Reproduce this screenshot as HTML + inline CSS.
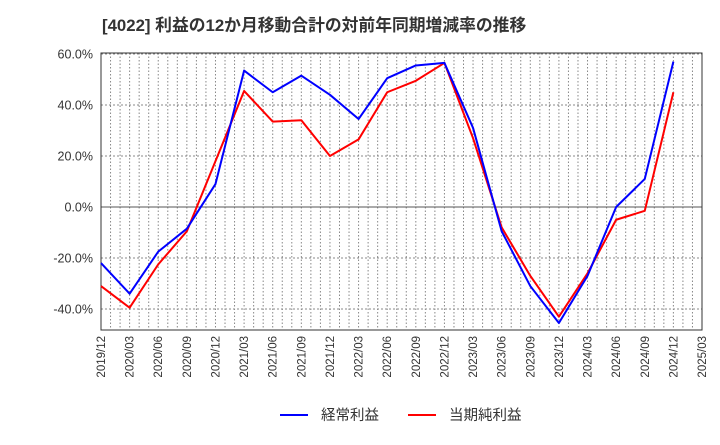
<!DOCTYPE html>
<html><head><meta charset="utf-8"><style>
body{margin:0;background:#fff;font-family:"Liberation Sans","Noto Sans CJK JP",sans-serif;}
svg text{font-family:"Liberation Sans","Noto Sans CJK JP",sans-serif;}
</style></head><body>
<svg id="c" width="720" height="440" xmlns="http://www.w3.org/2000/svg">
<text x="102" y="31" font-size="16.8" font-weight="bold" fill="#333">[4022]  利益の12か月移動合計の対前年同期増減率の推移</text>
<g id="grid"></g><g id="axes"></g><g id="series"></g>
<g>
<line x1="280" y1="415" x2="308" y2="415" stroke="#0000ff" stroke-width="2"/>
<text x="321" y="420" font-size="14.5" fill="#333">経常利益</text>
<line x1="408" y1="415" x2="436" y2="415" stroke="#ff0000" stroke-width="2"/>
<text x="449" y="420" font-size="14.5" fill="#333">当期純利益</text>
</g>
</svg>
<script>
const categories=["2019/12","2020/03","2020/06","2020/09","2020/12","2021/03","2021/06","2021/09","2021/12","2022/03","2022/06","2022/09","2022/12","2023/03","2023/06","2023/09","2023/12","2024/03","2024/06","2024/09","2024/12","2025/03"];
const keijoValues=[-22,-34,-17.5,-8.5,9,53.5,45,51.5,44,34.5,50.5,55.5,56.5,31,-9.5,-31,-45.5,-27,0,11,57];
const junriValues=[-31,-39.5,-22.5,-9.5,18,45.5,33.5,34,20,26.5,45,49.5,56.5,27,-8,-27,-43,-26,-5,-1.5,45];
const yTicks=[-40,-20,0,20,40,60];
const L=101,R=702,T=53,B=330;
const NS="http://www.w3.org/2000/svg";
const qw=(R-L)/(categories.length-1);
function x(i){return L+i*qw;}
function y(v){return 207-2.55*v;}
function mk(t,a,p){const e=document.createElementNS(NS,t);for(const k in a)e.setAttribute(k,a[k]);p.appendChild(e);return e;}
const grid=document.getElementById('grid'),axes=document.getElementById('axes'),ser=document.getElementById('series');
mk('rect',{x:L,y:T,width:R-L,height:B-T,fill:'#fff'},grid);
for(let m=1;m<(categories.length-1)*3;m++){const gx=L+m*qw/3;
const l=mk('line',{x1:gx,y1:T,x2:gx,y2:B,stroke:'#888','stroke-dasharray':'1.5,2','stroke-width':1},grid);

}
yTicks.forEach(v=>{const gy=y(v);
const l=mk('line',{x1:L,y1:gy,x2:R,y2:gy,stroke:v===0?'#555':'#888','stroke-dasharray':v===0?'':'2,2','stroke-width':1},grid);


const t=mk('text',{x:L-8,y:gy+4.5,'text-anchor':'end','font-size':12.5,fill:'#333'},axes);t.textContent=v.toFixed(1)+'%';

});
categories.forEach((c,i)=>{const t=mk('text',{transform:`translate(${x(i)+4},${B+6}) rotate(-90)`,'text-anchor':'end','font-size':11.5,fill:'#333'},axes);t.textContent=c;

});
const fr=mk('rect',{x:L,y:T,width:R-L,height:B-T,fill:'none',stroke:'#333','stroke-width':1},axes);


function line(vals,col,name){const p=mk('polyline',{points:vals.map((v,i)=>x(i)+','+y(v)).join(' '),fill:'none',stroke:col,'stroke-width':2,'stroke-linejoin':'round'},ser);

}
line(junriValues,'#ff0000','series-junri');
line(keijoValues,'#0000ff','series-keijo');
</script>
</body></html>
